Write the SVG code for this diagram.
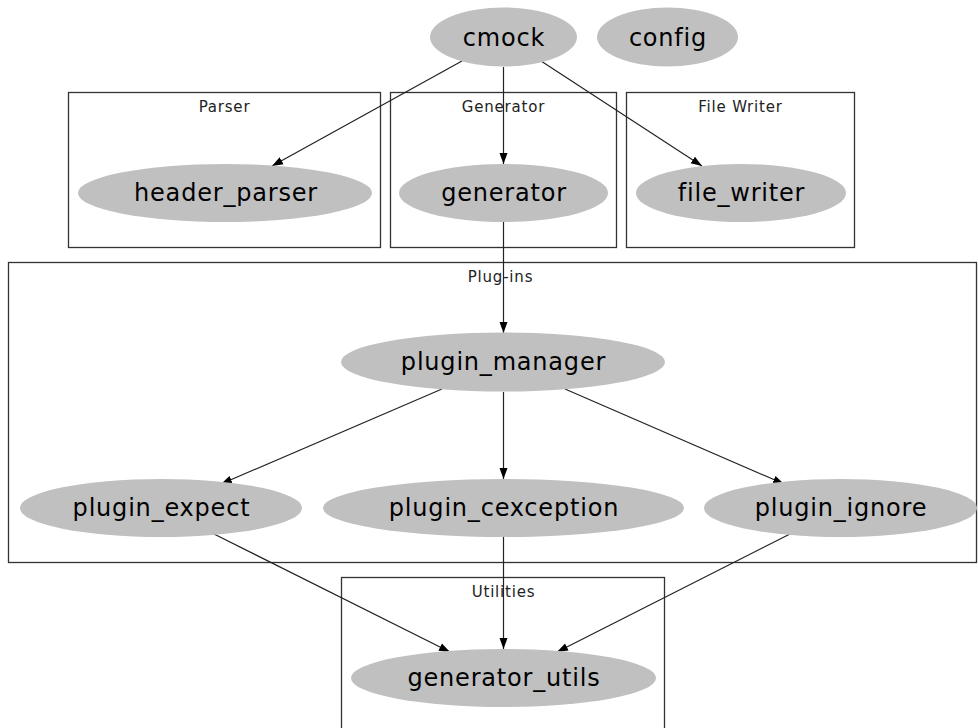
<svg xmlns="http://www.w3.org/2000/svg" width="978" height="728" viewBox="0 0 978 728">
<style>
.cl{fill:none;stroke:#333;stroke-width:1.3}
.cll{font-family:"DejaVu Sans",sans-serif;font-size:15px;letter-spacing:0.8px;fill:#222;text-anchor:middle}
.nd{fill:#c0c0c0;stroke:none}
.nl{font-family:"DejaVu Sans",sans-serif;font-size:24px;letter-spacing:0.8px;fill:#000;text-anchor:middle}
.ed{fill:none;stroke:#222;stroke-width:1.2;marker-end:url(#ah)}
</style>
<defs>
<marker id="ah" markerUnits="userSpaceOnUse" markerWidth="12" markerHeight="9" refX="11" refY="4" orient="auto" viewBox="0 0 12 8">
<path d="M0,0 L11,4 L0,8 z" fill="#000"/>
</marker>
</defs>
<rect width="978" height="728" fill="#fff"/>
<g id="clusters">
<g id="cluster_parser"><rect class="cl" x="68.5" y="92.5" width="312" height="155"/><text class="cll" x="224.5" y="112">Parser</text></g>
<g id="cluster_generator"><rect class="cl" x="390.5" y="92.5" width="226" height="155"/><text class="cll" x="503.5" y="112">Generator</text></g>
<g id="cluster_filewriter"><rect class="cl" x="626.5" y="92.5" width="228" height="155"/><text class="cll" x="740.5" y="112">File Writer</text></g>
<g id="cluster_plugins"><rect class="cl" x="8.5" y="262.5" width="968" height="300"/><text class="cll" x="500.5" y="282">Plug-ins</text></g>
<g id="cluster_utilities"><rect class="cl" x="341.5" y="577.5" width="323" height="160"/><text class="cll" x="503.5" y="597">Utilities</text></g>
</g>
<g id="connectors">
<line class="ed" x1="462" y1="61" x2="272" y2="166"/>
<line class="ed" x1="503.5" y1="67" x2="503.5" y2="164"/>
<line class="ed" x1="541" y1="61" x2="702" y2="166"/>
<line class="ed" x1="503.5" y1="222" x2="503.5" y2="333"/>
<line class="ed" x1="442" y1="389" x2="221" y2="484"/>
<line class="ed" x1="503.5" y1="392" x2="503.5" y2="479"/>
<line class="ed" x1="565" y1="389" x2="784" y2="484"/>
<line class="ed" x1="214" y1="534" x2="450" y2="652"/>
<line class="ed" x1="503.5" y1="537" x2="503.5" y2="649"/>
<line class="ed" x1="790" y1="534" x2="557" y2="652"/>
</g>
<g id="cmock"><ellipse class="nd" cx="503.5" cy="37" rx="73.5" ry="29.5"/><text class="nl" x="504" y="46">cmock</text></g>
<g id="config"><ellipse class="nd" cx="667.5" cy="37" rx="70.5" ry="29.5"/><text class="nl" x="668" y="46">config</text></g>
<g id="header_parser"><ellipse class="nd" cx="225" cy="193" rx="147" ry="29"/><text class="nl" x="226" y="201">header_parser</text></g>
<g id="generator"><ellipse class="nd" cx="503.5" cy="193" rx="104.5" ry="29"/><text class="nl" x="504" y="201">generator</text></g>
<g id="file_writer"><ellipse class="nd" cx="741" cy="193" rx="105" ry="29"/><text class="nl" x="741.5" y="201">file_writer</text></g>
<g id="plugin_manager"><ellipse class="nd" cx="503" cy="362" rx="162" ry="29.5"/><text class="nl" x="503.5" y="370">plugin_manager</text></g>
<g id="plugin_expect"><ellipse class="nd" cx="161" cy="508" rx="141" ry="29"/><text class="nl" x="161.5" y="516">plugin_expect</text></g>
<g id="plugin_cexception"><ellipse class="nd" cx="503.5" cy="508" rx="180.5" ry="29"/><text class="nl" x="504" y="516">plugin_cexception</text></g>
<g id="plugin_ignore"><ellipse class="nd" cx="840.5" cy="508" rx="136.5" ry="29"/><text class="nl" x="841" y="516">plugin_ignore</text></g>
<g id="generator_utils"><ellipse class="nd" cx="503.5" cy="678" rx="152.5" ry="29"/><text class="nl" x="504" y="686">generator_utils</text></g>
</svg>
